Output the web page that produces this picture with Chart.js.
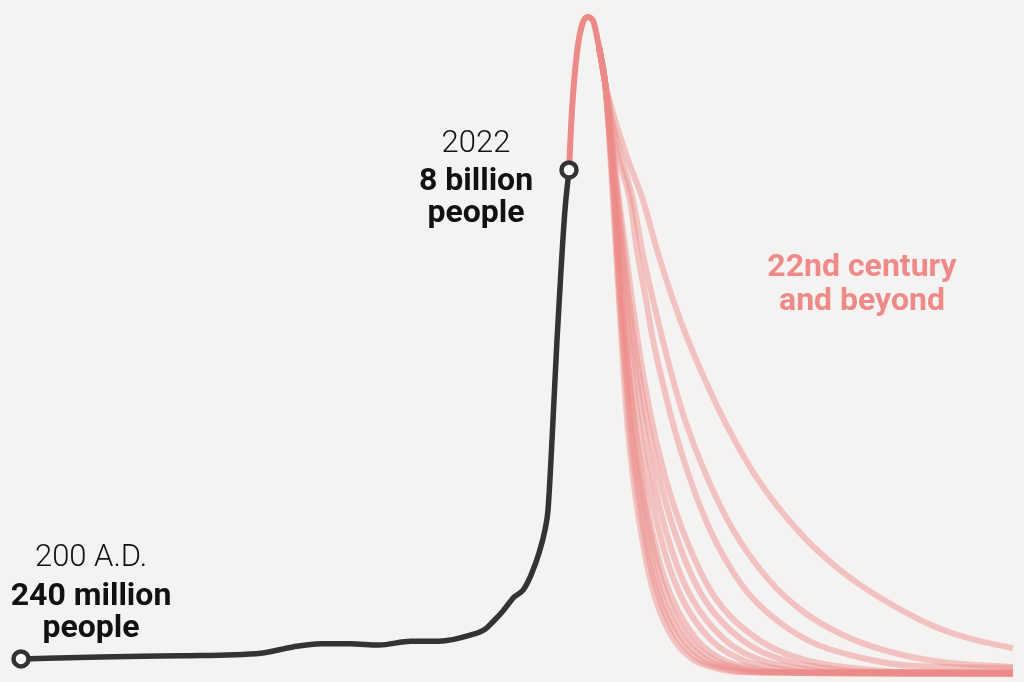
<!DOCTYPE html>
<html>
<head>
<meta charset="utf-8">
<script src="https://cdn.jsdelivr.net/npm/chart.js@4.4.1/dist/chart.umd.min.js"></script>
<style>
  html, body { margin: 0; padding: 0; background: #f5f3f2; }
  #wrap { width: 1024px; height: 682px; position: relative; }
</style>
</head>
<body>
<div id="wrap"><canvas id="popChart"></canvas></div>
<script>
// World population, billions, on a stylised timeline (x = position along the story)
const pastX = [21, 100, 180, 261, 293, 321, 350, 379, 411, 439, 471, 485, 493, 503, 514, 523, 531, 539, 545, 548, 551, 554, 557, 561, 565, 569];
const pastPop = [0.24, 0.27, 0.29, 0.33, 0.43, 0.48, 0.48, 0.46, 0.52, 0.52, 0.62, 0.71, 0.83, 1.00, 1.22, 1.33, 1.57, 1.92, 2.29, 2.60, 3.40, 4.35, 5.30, 6.41, 7.37, 8.00];

// projected rise to the peak, shared by every scenario
const peakX = [569, 572, 577, 582, 587, 593, 599, 605];
const peakPop = [8.00, 8.95, 9.87, 10.30, 10.43, 10.37, 9.95, 9.40];

// 22nd century and beyond: one list of [x, billions] per scenario
const futureScenarios = [
    [[599, 9.95], [605, 9.40], [615, 8.79], [628, 8.16], [643, 7.52], [657, 6.73], [673, 5.94], [688, 5.30], [705, 4.67], [724, 4.03], [757, 3.11], [800, 2.24], [840, 1.65], [880, 1.21], [935, 0.75], [975, 0.54], [1013, 0.41]],
    [[599, 9.95], [605, 9.40], [612, 8.79], [622, 8.16], [633, 7.52], [642, 6.73], [653, 5.94], [664, 5.22], [673, 4.67], [685, 4.03], [706, 3.16], [733, 2.29], [769, 1.49], [804, 0.98], [843, 0.62], [884, 0.38], [942, 0.19], [1013, 0.11]],
    [[599, 9.95], [605, 9.40], [611, 8.79], [619, 8.16], [630, 7.52], [637, 6.73], [646, 5.94], [653, 5.30], [662, 4.67], [672, 4.03], [687, 3.24], [710, 2.29], [742, 1.41], [770, 0.94], [811, 0.51], [858, 0.27], [905, 0.14], [1013, 0.10]],
    [[599, 9.95], [605, 9.40], [619, 7.52], [632, 5.94], [644, 4.67], [656, 3.71], [672, 2.76], [695, 1.81], [717, 1.17], [759, 0.54], [806, 0.22], [851, 0.10], [909, 0.03], [1013, 0.02]],
    [[599, 9.95], [605, 9.40], [618, 7.52], [629, 5.94], [640, 4.67], [651, 3.71], [665, 2.76], [685, 1.81], [705, 1.17], [742, 0.54], [784, 0.22], [823, 0.10], [875, 0.03], [1013, 0.02]],
    [[599, 9.95], [605, 9.40], [617, 7.52], [627, 5.94], [637, 4.67], [646, 3.71], [658, 2.76], [675, 1.81], [693, 1.17], [725, 0.54], [761, 0.22], [796, 0.10], [841, 0.03], [1013, 0.02]],
    [[599, 9.95], [605, 9.40], [616, 7.52], [625, 5.94], [633, 4.67], [641, 3.71], [652, 2.76], [667, 1.81], [683, 1.17], [711, 0.54], [743, 0.22], [773, 0.10], [813, 0.03], [1013, 0.02]],
    [[599, 9.95], [605, 9.40], [615, 7.52], [622, 5.94], [630, 4.67], [637, 3.71], [646, 2.76], [659, 1.81], [673, 1.17], [697, 0.54], [724, 0.22], [751, 0.10], [785, 0.03], [1013, 0.01]],
    [[599, 9.95], [605, 9.40], [615, 7.52], [622, 5.94], [629, 4.67], [635, 3.71], [644, 2.76], [656, 1.81], [668, 1.17], [690, 0.54], [715, 0.22], [740, 0.10], [771, 0.03], [1013, 0.01]],
    [[599, 9.95], [605, 9.40], [614, 7.52], [620, 5.94], [627, 4.67], [633, 3.71], [641, 2.76], [652, 1.81], [663, 1.17], [684, 0.54], [707, 0.22], [730, 0.10], [759, 0.03], [1013, 0.01]],
    [[599, 9.95], [605, 9.40], [614, 7.52], [620, 5.94], [626, 4.67], [631, 3.71], [639, 2.76], [649, 1.81], [660, 1.17], [679, 0.54], [700, 0.22], [721, 0.10], [748, 0.03], [1013, 0.00]],
    [[599, 9.95], [605, 9.40], [613, 7.52], [619, 5.94], [624, 4.67], [629, 3.71], [636, 2.76], [646, 1.81], [656, 1.17], [674, 0.54], [694, 0.22], [714, 0.10], [739, 0.03], [1013, 0.00]]
];

const BLACK = '#333333';
const RED = 'rgb(236, 138, 136)';
const RED_FADED = 'rgba(236, 138, 136, 0.47)';

function toPoints(xs, ys) {
    return xs.map((x, i) => ({ x: x, y: ys[i] }));
}

// Text labels, drawn on the canvas next to the points they describe
const labelPlugin = {
    id: 'storyLabels',
    afterDatasetsDraw(chart) {
        const { ctx, scales: { x, y } } = chart;
        const light = '300 31px Roboto, "Liberation Sans", sans-serif';
        const bold = '700 32px Roboto, "Liberation Sans", sans-serif';
        ctx.save();
        ctx.textAlign = 'center';
        ctx.textBaseline = 'alphabetic';

        // 200 A.D.
        const sx = x.getPixelForValue(pastX[0]);
        const sy = y.getPixelForValue(pastPop[0]);
        ctx.fillStyle = '#111111';
        ctx.font = light;
        ctx.fillText('200 A.D.', sx + 70, sy - 93);
        ctx.font = bold;
        ctx.fillText('240 million', sx + 70, sy - 54);
        ctx.fillText('people', sx + 70, sy - 22);

        // 2022
        const last = pastX.length - 1;
        const ex = x.getPixelForValue(pastX[last]);
        const ey = y.getPixelForValue(pastPop[last]);
        ctx.font = light;
        ctx.fillText('2022', ex - 93, ey - 18);
        ctx.font = bold;
        ctx.fillText('8 billion', ex - 93, ey + 20);
        ctx.fillText('people', ex - 93, ey + 52);

        // future
        ctx.fillStyle = 'rgb(238, 139, 136)';
        ctx.font = '700 32px Roboto, "Liberation Sans", sans-serif';
        const fx = x.getPixelForValue(862);
        const fy = y.getPixelForValue(6.32);
        ctx.fillText('22nd century', fx, fy);
        ctx.fillText('and beyond', fx, fy + 34);
        ctx.restore();
    }
};

const datasets = [];

datasets.push({
    label: 'Past',
    data: toPoints(pastX, pastPop),
    borderColor: BLACK,
    borderWidth: 5.5,
    pointRadius: (c) => (c.dataIndex === 0 || c.dataIndex === pastX.length - 1) ? 7.5 : 0,
    pointBorderWidth: 4.5,
    pointBorderColor: BLACK,
    pointBackgroundColor: '#ffffff',
    cubicInterpolationMode: 'monotone',
    order: 0
});

datasets.push({
    label: 'Peak',
    data: toPoints(peakX, peakPop),
    borderColor: RED,
    borderWidth: 6,
    pointRadius: 0,
    cubicInterpolationMode: 'monotone',
    order: 1
});

futureScenarios.forEach((path, i) => {
    datasets.push({
        label: 'Scenario ' + (i + 1),
        data: path.map(p => ({ x: p[0], y: p[1] })),
        borderColor: RED_FADED,
        borderWidth: 6,
        borderCapStyle: 'butt',
        pointRadius: 0,
        cubicInterpolationMode: 'monotone',
        order: 2
    });
});

new Chart(document.getElementById('popChart'), {
    type: 'line',
    data: { datasets: datasets },
    options: {
        responsive: true,
        maintainAspectRatio: false,
        animation: false,
        events: [],
        layout: { padding: 0, autoPadding: false },
        elements: {
            line: { borderCapStyle: 'round', borderJoinStyle: 'round' }
        },
        plugins: {
            legend: { display: false },
            tooltip: { enabled: false }
        },
        scales: {
            x: { type: 'linear', min: 0, max: 1024, display: false },
            y: { type: 'linear', min: -0.127, max: 10.698, display: false }
        }
    },
    plugins: [labelPlugin]
});
</script>
</body>
</html>
